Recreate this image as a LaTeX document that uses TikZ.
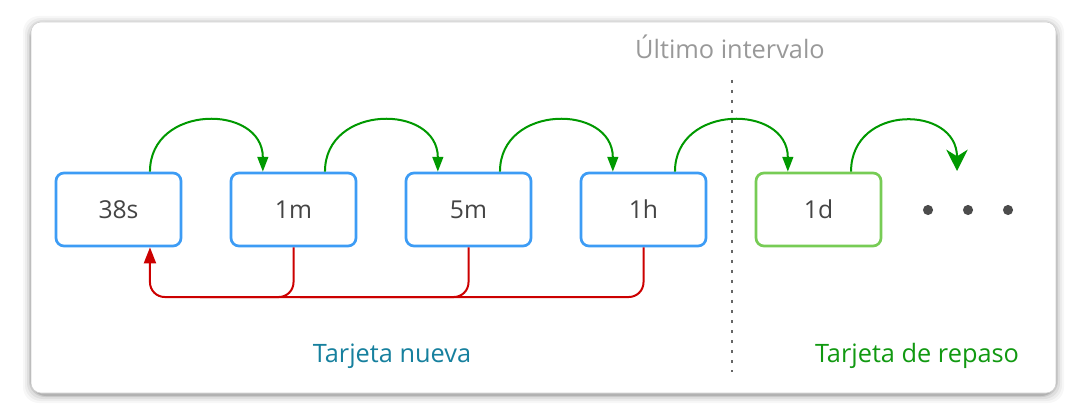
\documentclass[tikz,border=0pt]{standalone}
\usepackage{fontspec}
\setmainfont{Open Sans}
\usetikzlibrary{arrows.meta}
\definecolor{boxblue}{HTML}{3D9CF5}
\definecolor{boxgreen}{HTML}{77CC55}
\definecolor{arrgreen}{HTML}{009900}
\definecolor{arrred}{HTML}{CC0000}
\definecolor{txtgray}{HTML}{444444}
\definecolor{teal}{HTML}{16809E}
\definecolor{lblgreen}{HTML}{119911}
\tikzset{
  interval/.style={draw=boxblue, line width=2pt, rounded corners=6pt, minimum width=93.75pt, minimum height=54.75pt, fill=white, text=txtgray, font=\fontsize{18.5}{20}\selectfont, inner sep=0pt},
  review/.style={interval, draw=boxgreen},
  nextarrow/.style={draw=arrgreen, line width=1.5pt, -{Triangle[length=11pt,width=8pt]}},
  backline/.style={draw=arrred, line width=1.5pt, rounded corners=11pt},
  caption/.style={font=\fontsize{19}{21}\selectfont, inner sep=0pt, anchor=center},
}
\begin{document}
\begin{tikzpicture}[x=0.75pt, y=-0.75pt]
\useasboundingbox (0,0) rectangle (1088,420);
% shadow of panel
\foreach \i/\o in {8/0.03,6/0.04,4/0.06,2/0.09,1/0.12}{
  \fill[black, opacity=\o, rounded corners=12pt] (31-\i,22-\i+2) rectangle (1056+\i,393+\i+2);
}
\node[draw=black!18, line width=0.5pt, fill=white, rounded corners=7.5pt, minimum width=768.75pt, minimum height=278.25pt, inner sep=0pt] (panel) at (543.5,207.5) {};
% boxes
\node[interval] (b1) at (118.5,209.5) {38s};
\node[interval] (b2) at (293.5,209.5) {1m};
\node[interval] (b3) at (468.5,209.5) {5m};
\node[interval] (b4) at (643.5,209.5) {1h};
\node[review] (b5) at (818.5,209.5) {1d};
% dots
\foreach \x/\n in {928/d1,968/d2,1008/d3}{
  \fill[black!70] (\x,210) circle (3.8pt);
  \coordinate (\n) at (\x,210);
}
% green arrows
\foreach \a/\b in {b1/b2,b2/b3,b3/b4,b4/b5}{
  \draw[nextarrow] ([xshift=23.6pt]\a.north) .. controls +(0,-68) and +(0,-68) .. ([xshift=-23pt]\b.north);
}
\coordinate (fin) at (957,171);
\draw[draw=arrgreen, line width=1.5pt, -{Stealth[length=16pt,width=16pt,inset=5pt]}] ([xshift=24.4pt]b5.north) .. controls +(0,-68) and +(0,-66) .. (fin);
% dotted separator
\coordinate (sepTop) at (732,80);
\coordinate (sepBot) at (732,372);
\draw[draw=black!60, line width=2.2pt, dash pattern=on 2.2pt off 5.3pt] (sepTop) -- (sepBot);
% red return lines
\coordinate (rin) at ([xshift=23.6pt]b1.south);
\coordinate (rcorner) at (rin |- 0,297);
\draw[backline, -{Triangle[length=12pt,width=9pt]}] (b4.south) |- (rcorner) -- (rin);
\draw[backline] (b3.south) |- (300,297);
\draw[backline] (b2.south) |- (200,297);
% labels
\node[caption, text=black!40] (lastint) at (730,47) {Último intervalo};
\node[caption, text=teal] (newcard) at (392,356) {Tarjeta nueva};
\node[caption, text=lblgreen] (revcard) at (917,356) {Tarjeta de repaso};
\end{tikzpicture}
\end{document}
